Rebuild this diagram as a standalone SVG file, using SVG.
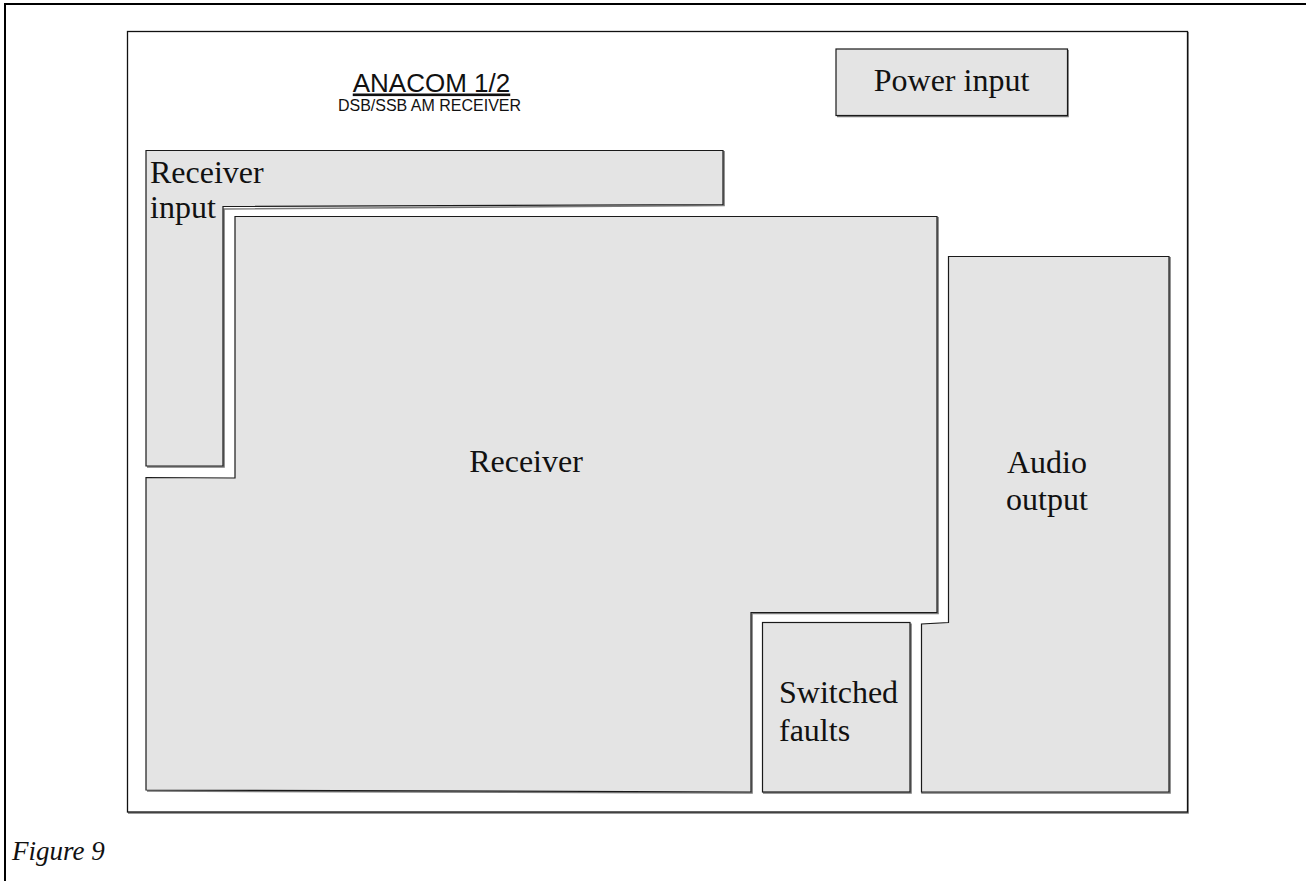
<svg xmlns="http://www.w3.org/2000/svg" width="1306" height="881" viewBox="0 0 1306 881">
<style>
.blk{fill:#e4e4e4;stroke:#1a1a1a;stroke-width:1.2}
.sh{fill:none;stroke:#7a7a7a;stroke-width:1.6}
.lbl{font-family:"Liberation Serif","Times New Roman",serif;font-size:32px;fill:#111}
.sans{font-family:"Liberation Sans",Arial,sans-serif;fill:#111}
</style>
<rect width="1306" height="881" fill="#fff"/>
<g id="page-frame">
<line x1="5" y1="4" x2="1306" y2="4" stroke="#000" stroke-width="2"/>
<line x1="5" y1="3" x2="5" y2="881" stroke="#000" stroke-width="2"/>
</g>
<g id="panel">
<polyline class="sh" points="1188,32 1188,813 128,813"/>
<rect x="127.5" y="31.5" width="1060" height="780.5" fill="none" stroke="#111" stroke-width="1.3"/>
</g>
<g id="title">
<text class="sans" x="431.5" y="91.5" font-size="26" text-anchor="middle" text-decoration="underline">ANACOM 1/2</text>
<text class="sans" x="429.5" y="111" font-size="16" text-anchor="middle">DSB/SSB AM RECEIVER</text>
</g>
<g id="power-input">
<polyline class="sh" points="1068,50 1068,116.5 837,116.5"/>
<rect class="blk" x="836" y="49" width="231.5" height="66.5"/>
<text class="lbl" x="951.5" y="91" text-anchor="middle">Power input</text>
</g>
<g id="receiver-input">
<polyline class="sh" points="724,151 724,205.5 224,209 224,467 147,467"/>
<polygon class="blk" points="146,150.5 723,150.5 723,204.5 223,206.5 223,466 146,466"/>
<text class="lbl" x="150" y="183">Receiver</text>
<text class="lbl" x="150" y="218">input</text>
</g>
<g id="receiver">
<polyline class="sh" points="938,217 938,613.5 752,613.5 752,793 147,791"/>
<polygon class="blk" points="235,216.5 937,216.5 937,612.5 751,612.5 751,792 146,790 146,477.5 235,478"/>
<text class="lbl" x="526" y="472" text-anchor="middle">Receiver</text>
</g>
<g id="switched-faults">
<polyline class="sh" points="911,623.5 911,793 763,793"/>
<rect class="blk" x="762.5" y="622.5" width="147.5" height="169.5"/>
<text class="lbl" x="779" y="703">Switched</text>
<text class="lbl" x="779" y="741">faults</text>
</g>
<g id="audio-output">
<polyline class="sh" points="1170,257 1170,793 922,793 922,625 949,623.5 949,257"/>
<polygon class="blk" points="948.5,256.5 1169,256.5 1169,792 921.5,792 921.5,624 948.5,622.5"/>
<text class="lbl" x="1047" y="473" text-anchor="middle">Audio</text>
<text class="lbl" x="1047" y="510" text-anchor="middle">output</text>
</g>
<g id="connectors"></g>
<text x="12" y="860" font-family="'Liberation Serif','Times New Roman',serif" font-style="italic" font-size="27" fill="#111">Figure 9</text>
</svg>
